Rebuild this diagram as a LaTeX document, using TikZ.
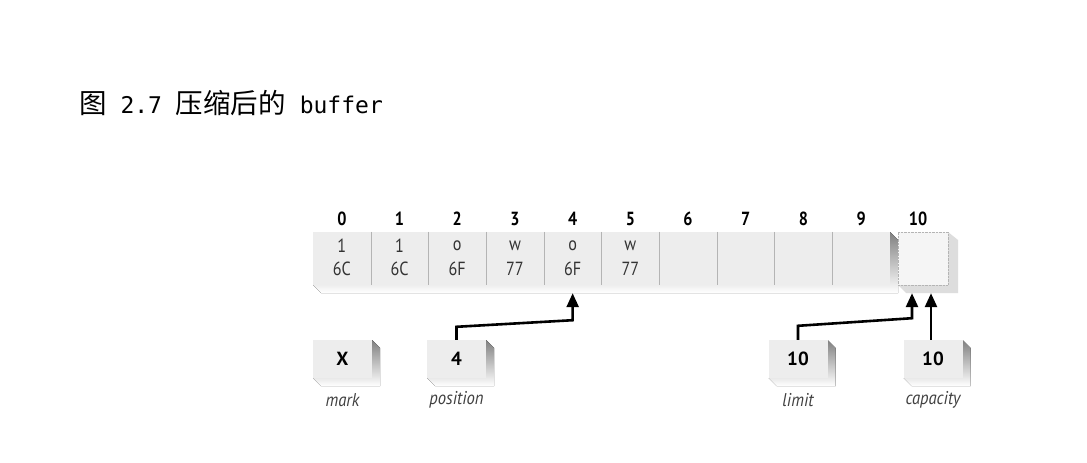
\documentclass[tikz,border=0pt]{standalone}
\usepackage{fontspec}
\usetikzlibrary{arrows.meta,calc}
\newfontfamily\cjk{Noto Sans CJK SC}
\newfontfamily\latmono{DejaVu Sans Mono}
\newfontfamily\lab{PT Sans}
\definecolor{cellfill}{HTML}{EDEDED}
\definecolor{cellten}{HTML}{F5F5F5}
\definecolor{shade}{HTML}{C6C6C6}
\definecolor{divider}{HTML}{B4B4B4}
\tikzset{
  cellnode/.style={minimum width=57.7pt,minimum height=53pt,inner sep=0pt},
  celltxt/.style={font=\lab\fontsize{19}{20}\selectfont,text=black!80,inner sep=0pt,xscale=0.85},
  idx/.style={font=\lab\bfseries\fontsize{19}{20}\selectfont,inner sep=0pt,xscale=0.85},
  valbox/.style={fill=cellfill,minimum width=59pt,minimum height=38pt,inner sep=0pt,
    font=\lab\bfseries\fontsize{19}{20}\selectfont},
  boxlab/.style={font=\lab\itshape\fontsize{18.5}{19}\selectfont,text=black!75,inner sep=0pt,xscale=0.9},
  arr/.style={line width=2.6pt,-{Triangle[width=12pt,length=14pt]}},
}
\begin{document}
\begin{tikzpicture}[x=1pt,y=-1pt]
\useasboundingbox[fill=white] (0,0) rectangle (1087,463);
% title
\node[anchor=west,inner sep=0pt] (title) at (79,103)
  {\cjk\fontsize{27.5}{30}\selectfont 图\latmono\fontsize{23}{30}\selectfont{} 2.7 \cjk\fontsize{27.5}{30}\selectfont 压缩后的\latmono\fontsize{23}{30}\selectfont{} buffer};
% slab shadow
\fill[shade] (313,285) -- (321,293) -- (898,293) -- (898,240) -- (890,232) -- (890,285) -- cycle;
\fill[cellfill] (313,232) rectangle (890,285);
% cells
\foreach \i/\a/\b in {0/1/6C,1/1/6C,2/o/6F,3/w/77,4/o/6F,5/w/77,6//,7//,8//,9//}{
  \node[cellnode] (c\i) at ({313+57.7*\i+28.85},258.5) {};
  \node[celltxt] (a\i) at ($(c\i.center)+(0,-13)$) {\a};
  \node[celltxt] (b\i) at ($(c\i.center)+(0,10)$) {\b};
}
\foreach \i in {0,...,8}{
  \draw[divider,line width=0.8pt] (c\i.north east) -- (c\i.south east);
}
% cell 10
\fill[shade!60] (898,285) -- (906,293) -- (958,293) -- (958,240) -- (948,232) -- (948,285) -- cycle;
\node[cellnode,fill=cellten,draw=divider,densely dotted,minimum width=50pt] (c10) at (923,258.5) {};
% indices
\foreach \i in {0,...,9}{
  \node[idx] (i\i) at ($(c\i.north)+(0,-13)$) {\i};
}
\node[idx] (i10) at ($(c10.north)+(-5,-13)$) {10};
% value boxes with shadows
\foreach \n/\x/\v/\l in {mark/342.5/X/mark,pos/456.5/4/position,lim/798/10/limit,cap/933/10/capacity}{
  \fill[shade] ({\x-29.5},378) -- ({\x-21.5},386) -- ({\x+37.5},386) -- ({\x+37.5},348) -- ({\x+29.5},340) -- ({\x+29.5},378) -- cycle;
  \node[valbox] (\n) at (\x,359) {\v};
  \node[boxlab] (\n l) at (\x,400) {\l};
}
% arrows
\coordinate (ptip) at ($(c4.south)+(0,8)$);
\coordinate (ltip) at ($(c10.south)+(-11,8)$);
\coordinate (ctip) at ($(c10.south)+(8,8)$);
\draw[arr] (pos.north) -- ++(0,-13) -- ($(ptip)+(0,27)$) -- (ptip);
\draw[arr] (lim.north) -- ++(0,-14) -- ($(ltip)+(0,25)$) -- (ltip);
\draw[arr] (cap.north -| ctip) -- (ctip);
\end{tikzpicture}
\end{document}
